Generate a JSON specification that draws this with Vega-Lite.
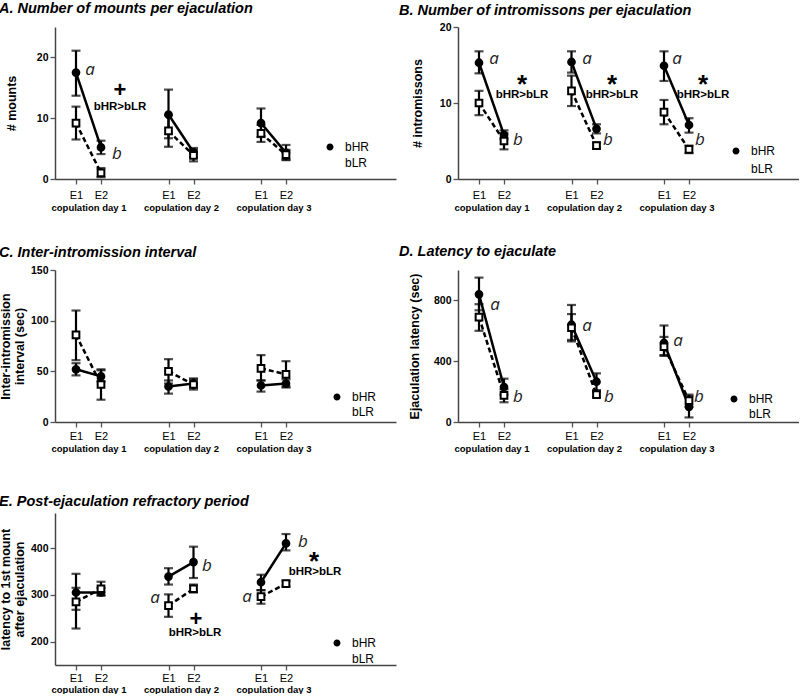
{
"$schema": "https://vega.github.io/schema/vega-lite/v6.json",
"padding": {"left": -2, "top": 0, "right": 0, "bottom": 0},
"bounds": "flush",
"columns": 2,
"spacing": {"row": 91, "column": 62},
"config": {
  "view": {"stroke": null},
  "font": "Liberation Sans",
  "axis": {"grid": false, "domainColor": "#444", "domainWidth": 1.5, "tickColor": "#555", "tickWidth": 1.3, "tickSize": 5, "labelColor": "black", "titleColor": "black"},
  "axisY": {"labelFontWeight": "bold", "labelFontSize": 10.5, "titleFontSize": 12.5, "titleFontWeight": "bold", "labelPadding": 2, "titleLineHeight": 14},
  "title": {"font": "Liberation Sans", "fontSize": 14.5, "fontStyle": "italic", "fontWeight": "bold", "anchor": "start", "frame": "group", "offset": 11, "color": "black"},
  "legend": {"padding": 0, "orient": "none", "title": null, "labelFont": "Liberation Sans", "labelFontSize": 12, "labelColor": "black", "labelOffset": 9, "symbolSize": 100, "symbolStrokeWidth": 2, "symbolStrokeColor": "black", "symbolOpacity": 1}
},
"datasets": {
  "meas": [
    {"panel":"A","group":"bHR","day":1,"ej":"E1","mean":17.5,"lo":13.7,"hi":21.1},
    {"panel":"A","group":"bHR","day":1,"ej":"E2","mean":5.2,"lo":4.1,"hi":6.3},
    {"panel":"A","group":"bLR","day":1,"ej":"E1","mean":9.2,"lo":6.5,"hi":11.9},
    {"panel":"A","group":"bLR","day":1,"ej":"E2","mean":1.0,"lo":0.3,"hi":1.8},
    {"panel":"A","group":"bHR","day":2,"ej":"E1","mean":10.6,"lo":6.7,"hi":14.7},
    {"panel":"A","group":"bHR","day":2,"ej":"E2","mean":4.4,"lo":3.6,"hi":5.1},
    {"panel":"A","group":"bLR","day":2,"ej":"E1","mean":7.9,"lo":5.3,"hi":10.5},
    {"panel":"A","group":"bLR","day":2,"ej":"E2","mean":3.9,"lo":2.9,"hi":4.8},
    {"panel":"A","group":"bHR","day":3,"ej":"E1","mean":9.2,"lo":6.9,"hi":11.6},
    {"panel":"A","group":"bHR","day":3,"ej":"E2","mean":4.3,"lo":3.1,"hi":5.6},
    {"panel":"A","group":"bLR","day":3,"ej":"E1","mean":7.5,"lo":6.1,"hi":8.9},
    {"panel":"A","group":"bLR","day":3,"ej":"E2","mean":4.0,"lo":3.2,"hi":4.8},
    {"panel":"B","group":"bHR","day":1,"ej":"E1","mean":15.3,"lo":13.9,"hi":16.8},
    {"panel":"B","group":"bHR","day":1,"ej":"E2","mean":5.8,"lo":5.3,"hi":6.4},
    {"panel":"B","group":"bLR","day":1,"ej":"E1","mean":10.0,"lo":8.4,"hi":11.6},
    {"panel":"B","group":"bLR","day":1,"ej":"E2","mean":5.0,"lo":3.9,"hi":6.0},
    {"panel":"B","group":"bHR","day":2,"ej":"E1","mean":15.4,"lo":14.0,"hi":16.8},
    {"panel":"B","group":"bHR","day":2,"ej":"E2","mean":6.6,"lo":6.0,"hi":7.2},
    {"panel":"B","group":"bLR","day":2,"ej":"E1","mean":11.6,"lo":9.6,"hi":13.6},
    {"panel":"B","group":"bLR","day":2,"ej":"E2","mean":4.4,"lo":4.0,"hi":4.8},
    {"panel":"B","group":"bHR","day":3,"ej":"E1","mean":14.9,"lo":12.9,"hi":16.8},
    {"panel":"B","group":"bHR","day":3,"ej":"E2","mean":7.1,"lo":6.1,"hi":8.0},
    {"panel":"B","group":"bLR","day":3,"ej":"E1","mean":8.8,"lo":7.2,"hi":10.4},
    {"panel":"B","group":"bLR","day":3,"ej":"E2","mean":3.9,"lo":3.4,"hi":4.4},
    {"panel":"C","group":"bHR","day":1,"ej":"E1","mean":52,"lo":46,"hi":58},
    {"panel":"C","group":"bHR","day":1,"ej":"E2","mean":45,"lo":40,"hi":51},
    {"panel":"C","group":"bLR","day":1,"ej":"E1","mean":86,"lo":61,"hi":110},
    {"panel":"C","group":"bLR","day":1,"ej":"E2","mean":37,"lo":22,"hi":52},
    {"panel":"C","group":"bHR","day":2,"ej":"E1","mean":35,"lo":28,"hi":41},
    {"panel":"C","group":"bHR","day":2,"ej":"E2","mean":38,"lo":34,"hi":42},
    {"panel":"C","group":"bLR","day":2,"ej":"E1","mean":50,"lo":38,"hi":62},
    {"panel":"C","group":"bLR","day":2,"ej":"E2","mean":37,"lo":32,"hi":43},
    {"panel":"C","group":"bHR","day":3,"ej":"E1","mean":36,"lo":30,"hi":41},
    {"panel":"C","group":"bHR","day":3,"ej":"E2","mean":38,"lo":34,"hi":42},
    {"panel":"C","group":"bLR","day":3,"ej":"E1","mean":53,"lo":41,"hi":66},
    {"panel":"C","group":"bLR","day":3,"ej":"E2","mean":47,"lo":35,"hi":60},
    {"panel":"D","group":"bHR","day":1,"ej":"E1","mean":840,"lo":735,"hi":950},
    {"panel":"D","group":"bHR","day":1,"ej":"E2","mean":230,"lo":180,"hi":285},
    {"panel":"D","group":"bLR","day":1,"ej":"E1","mean":690,"lo":600,"hi":775},
    {"panel":"D","group":"bLR","day":1,"ej":"E2","mean":175,"lo":130,"hi":215},
    {"panel":"D","group":"bHR","day":2,"ej":"E1","mean":640,"lo":540,"hi":770},
    {"panel":"D","group":"bHR","day":2,"ej":"E2","mean":265,"lo":210,"hi":320},
    {"panel":"D","group":"bLR","day":2,"ej":"E1","mean":620,"lo":530,"hi":710},
    {"panel":"D","group":"bLR","day":2,"ej":"E2","mean":180,"lo":165,"hi":200},
    {"panel":"D","group":"bHR","day":3,"ej":"E1","mean":520,"lo":440,"hi":635},
    {"panel":"D","group":"bHR","day":3,"ej":"E2","mean":100,"lo":30,"hi":170},
    {"panel":"D","group":"bLR","day":3,"ej":"E1","mean":495,"lo":435,"hi":560},
    {"panel":"D","group":"bLR","day":3,"ej":"E2","mean":140,"lo":100,"hi":180},
    {"panel":"E","group":"bHR","day":1,"ej":"E1","mean":305,"lo":268,"hi":345},
    {"panel":"E","group":"bHR","day":1,"ej":"E2","mean":305,"lo":298,"hi":315},
    {"panel":"E","group":"bLR","day":1,"ej":"E1","mean":285,"lo":228,"hi":315},
    {"panel":"E","group":"bLR","day":1,"ej":"E2","mean":313,"lo":300,"hi":328},
    {"panel":"E","group":"bHR","day":2,"ej":"E1","mean":339,"lo":322,"hi":357},
    {"panel":"E","group":"bHR","day":2,"ej":"E2","mean":370,"lo":336,"hi":403},
    {"panel":"E","group":"bLR","day":2,"ej":"E1","mean":277,"lo":253,"hi":301},
    {"panel":"E","group":"bLR","day":2,"ej":"E2","mean":313,"lo":305,"hi":322},
    {"panel":"E","group":"bHR","day":3,"ej":"E1","mean":327,"lo":310,"hi":343},
    {"panel":"E","group":"bHR","day":3,"ej":"E2","mean":410,"lo":395,"hi":430},
    {"panel":"E","group":"bLR","day":3,"ej":"E1","mean":296,"lo":281,"hi":310},
    {"panel":"E","group":"bLR","day":3,"ej":"E2","mean":324,"lo":318,"hi":330}
  ],
  "notes": [
    {"panel":"A","kind":"letter","label":"a","x":15.6,"yv":17.9},
    {"panel":"A","kind":"letter","label":"b","x":26.4,"yv":4.1},
    {"panel":"A","kind":"plus","label":"+","x":27.6,"yv":14.6},
    {"panel":"A","kind":"sig","label":"bHR>bLR","x":27.6,"yv":11.8},
    {"panel":"B","kind":"letter","label":"a","x":16,"yv":15.8},
    {"panel":"B","kind":"letter","label":"b","x":25.6,"yv":5.1},
    {"panel":"B","kind":"letter","label":"a","x":53.2,"yv":15.8},
    {"panel":"B","kind":"letter","label":"b","x":61.6,"yv":5.1},
    {"panel":"B","kind":"letter","label":"a","x":89.2,"yv":15.8},
    {"panel":"B","kind":"letter","label":"b","x":98.4,"yv":5.1},
    {"panel":"B","kind":"star","label":"*","x":27.2,"yv":13.2},
    {"panel":"B","kind":"star","label":"*","x":63.2,"yv":13.2},
    {"panel":"B","kind":"star","label":"*","x":99.6,"yv":13.2},
    {"panel":"B","kind":"sig","label":"bHR>bLR","x":27.2,"yv":11.1},
    {"panel":"B","kind":"sig","label":"bHR>bLR","x":63.2,"yv":11.1},
    {"panel":"B","kind":"sig","label":"bHR>bLR","x":99.6,"yv":11.1},
    {"panel":"D","kind":"letter","label":"a","x":16.4,"yv":773},
    {"panel":"D","kind":"letter","label":"b","x":25.6,"yv":166},
    {"panel":"D","kind":"letter","label":"a","x":53.2,"yv":629},
    {"panel":"D","kind":"letter","label":"b","x":62,"yv":166},
    {"panel":"D","kind":"letter","label":"a","x":89.6,"yv":530},
    {"panel":"D","kind":"letter","label":"b","x":98,"yv":166},
    {"panel":"E","kind":"letter","label":"a","x":41.6,"yv":294},
    {"panel":"E","kind":"letter","label":"b","x":62.4,"yv":362},
    {"panel":"E","kind":"letter","label":"a","x":78.4,"yv":296},
    {"panel":"E","kind":"letter","label":"b","x":100.8,"yv":412},
    {"panel":"E","kind":"plus","label":"+","x":58,"yv":249},
    {"panel":"E","kind":"sig","label":"bHR>bLR","x":57.6,"yv":219},
    {"panel":"E","kind":"star","label":"*","x":105.2,"yv":382},
    {"panel":"E","kind":"sig","label":"bHR>bLR","x":105.6,"yv":348}
  ]
},
"resolve": {"scale": {"shape": "independent", "fill": "independent"}, "legend": {"shape": "independent", "fill": "independent"}},
"concat": [
  {"width": 341, "height": 152,
   "title": {"text": "A. Number of mounts per ejaculation", "dx": -56, "offset": 11},
   "layer": [
    {"data": {"name": "meas"}, "transform": [{"filter": "datum.panel==='A'"}, {"calculate": "(datum.day-1)*37 + (datum.ej==='E2' ? 20 : 10)", "as": "x"}],
     "mark": {"type": "errorbar", "ticks": {"size": 9, "thickness": 2.2, "color": "black"}, "rule": {"strokeWidth": 2.2, "color": "black"}},
     "encoding": {
      "x": {"field": "x", "type": "quantitative", "scale": {"domain": [1.6, 138], "nice": false, "zero": false}, "axis": {"values": [10, 15, 20, 47, 52, 57, 84, 89, 94], "labelExpr": "datum.value==15 ? ['', 'copulation day 1'] : datum.value==52 ? ['', 'copulation day 2'] : datum.value==89 ? ['', 'copulation day 3'] : (datum.value==10||datum.value==47||datum.value==84) ? 'E1' : 'E2'", "labelOverlap": false, "labelFlush": false, "labelBound": false, "labelFontSize": {"condition": {"test": "datum.value==15||datum.value==52||datum.value==89", "value": 9.5}, "value": 11}, "labelFontWeight": {"condition": {"test": "datum.value==15||datum.value==52||datum.value==89", "value": "bold"}, "value": "normal"}, "tickOpacity": {"condition": {"test": "datum.value==15||datum.value==52||datum.value==89", "value": 0}, "value": 1}, "labelLineHeight": 13, "labelPadding": 5, "title": null}},
      "y": {"field": "lo", "type": "quantitative", "scale": {"domain": [0, 25], "nice": false}, "axis": {"values": [0, 5, 10, 15, 20, 25], "title": "# mounts", "titleX": -37}},
      "y2": {"field": "hi"}
     }},
    {"data": {"name": "meas"}, "transform": [{"filter": "datum.panel==='A' && datum.group==='bHR'"}, {"calculate": "(datum.day-1)*37 + (datum.ej==='E2' ? 20 : 10)", "as": "x"}],
     "mark": {"type": "line", "color": "black", "strokeWidth": 2.5},
     "encoding": {"x": {"field": "x", "type": "quantitative"}, "y": {"field": "mean", "type": "quantitative"}, "detail": {"field": "day"}}},
    {"data": {"name": "meas"}, "transform": [{"filter": "datum.panel==='A' && datum.group==='bLR'"}, {"calculate": "(datum.day-1)*37 + (datum.ej==='E2' ? 20 : 10)", "as": "x"}],
     "mark": {"type": "line", "color": "black", "strokeWidth": 2.5, "strokeDash": [5, 3]},
     "encoding": {"x": {"field": "x", "type": "quantitative"}, "y": {"field": "mean", "type": "quantitative"}, "detail": {"field": "day"}}},
    {"data": {"name": "meas"}, "transform": [{"filter": "datum.panel==='A' && datum.group==='bHR'"}, {"calculate": "(datum.day-1)*37 + (datum.ej==='E2' ? 20 : 10)", "as": "x"}],
     "mark": {"type": "point", "shape": "circle", "filled": true, "fill": "black", "stroke": "black", "strokeWidth": 2, "size": 45, "opacity": 1},
     "encoding": {"x": {"field": "x", "type": "quantitative"}, "y": {"field": "mean", "type": "quantitative"}}},
    {"data": {"name": "meas"}, "transform": [{"filter": "datum.panel==='A' && datum.group==='bLR'"}, {"calculate": "(datum.day-1)*37 + (datum.ej==='E2' ? 20 : 10)", "as": "x"}],
     "mark": {"type": "point", "shape": "square", "filled": true, "fill": "white", "stroke": "black", "strokeWidth": 2, "size": 45, "opacity": 1},
     "encoding": {"x": {"field": "x", "type": "quantitative"}, "y": {"field": "mean", "type": "quantitative"}}},
    {"data": {"name": "meas"}, "transform": [{"filter": "datum.panel==='A'"}, {"calculate": "(datum.day-1)*37 + (datum.ej==='E2' ? 20 : 10)", "as": "x"}],
     "mark": {"type": "point", "filled": false, "opacity": 0, "size": 10, "stroke": "black", "strokeWidth": 2},
     "encoding": {"x": {"field": "x", "type": "quantitative"}, "y": {"field": "mean", "type": "quantitative"},
      "shape": {"field": "group", "type": "nominal", "scale": {"domain": ["bHR", "bLR"], "range": ["M-2.2,0H2.2M0.7,0A0.7,0.7,0,1,1,-0.7,0A0.7,0.7,0,1,1,0.7,0Z", "M-2.2,0H-1.6M-1.2,0H-0.7M0.7,0H1.2M1.6,0H2.2M-0.7,-0.7H0.7V0.7H-0.7Z"]}, "legend": {"legendX": 269, "legendY": 114, "rowPadding": 0}},
      "fill": {"field": "group", "type": "nominal", "scale": {"domain": ["bHR", "bLR"], "range": ["black", "white"]}, "legend": {"legendX": 269, "legendY": 114, "rowPadding": 0}}}},
    {"data": {"name": "notes"}, "transform": [{"filter": "datum.panel==='A' && datum.kind==='letter'"}],
     "mark": {"type": "text", "font": "Open Sans", "fontStyle": "italic", "fontSize": 17, "align": "center", "baseline": "middle", "color": "#222"},
     "encoding": {"x": {"field": "x", "type": "quantitative"}, "y": {"field": "yv", "type": "quantitative"}, "text": {"field": "label"}}},
    {"data": {"name": "notes"}, "transform": [{"filter": "datum.panel==='A' && datum.kind==='plus'"}],
     "mark": {"type": "text", "font": "Liberation Sans", "fontWeight": "bold", "fontSize": 22, "align": "center", "baseline": "middle", "color": "black"},
     "encoding": {"x": {"field": "x", "type": "quantitative"}, "y": {"field": "yv", "type": "quantitative"}, "text": {"field": "label"}}},
    {"data": {"name": "notes"}, "transform": [{"filter": "datum.panel==='A' && datum.kind==='sig'"}],
     "mark": {"type": "text", "font": "Liberation Sans", "fontWeight": "bold", "fontSize": 11.5, "align": "center", "baseline": "middle", "color": "black"},
     "encoding": {"x": {"field": "x", "type": "quantitative"}, "y": {"field": "yv", "type": "quantitative"}, "text": {"field": "label"}}}
   ]},
  {"width": 341, "height": 152,
   "title": {"text": "B. Number of intromissons per ejaculation", "dx": -59, "offset": 4},
   "layer": [
    {"data": {"name": "meas"}, "transform": [{"filter": "datum.panel==='B'"}, {"calculate": "(datum.day-1)*37 + (datum.ej==='E2' ? 20 : 10)", "as": "x"}],
     "mark": {"type": "errorbar", "ticks": {"size": 9, "thickness": 2.2, "color": "black"}, "rule": {"strokeWidth": 2.2, "color": "black"}},
     "encoding": {
      "x": {"field": "x", "type": "quantitative", "scale": {"domain": [1.6, 138], "nice": false, "zero": false}, "axis": {"values": [10, 15, 20, 47, 52, 57, 84, 89, 94], "labelExpr": "datum.value==15 ? ['', 'copulation day 1'] : datum.value==52 ? ['', 'copulation day 2'] : datum.value==89 ? ['', 'copulation day 3'] : (datum.value==10||datum.value==47||datum.value==84) ? 'E1' : 'E2'", "labelOverlap": false, "labelFlush": false, "labelBound": false, "labelFontSize": {"condition": {"test": "datum.value==15||datum.value==52||datum.value==89", "value": 9.5}, "value": 11}, "labelFontWeight": {"condition": {"test": "datum.value==15||datum.value==52||datum.value==89", "value": "bold"}, "value": "normal"}, "tickOpacity": {"condition": {"test": "datum.value==15||datum.value==52||datum.value==89", "value": 0}, "value": 1}, "labelLineHeight": 13, "labelPadding": 5, "title": null}},
      "y": {"field": "lo", "type": "quantitative", "scale": {"domain": [0, 20], "nice": false}, "axis": {"values": [0, 5, 10, 15, 20], "title": "# intromissons", "titleX": -34}},
      "y2": {"field": "hi"}
     }},
    {"data": {"name": "meas"}, "transform": [{"filter": "datum.panel==='B' && datum.group==='bHR'"}, {"calculate": "(datum.day-1)*37 + (datum.ej==='E2' ? 20 : 10)", "as": "x"}],
     "mark": {"type": "line", "color": "black", "strokeWidth": 2.5},
     "encoding": {"x": {"field": "x", "type": "quantitative"}, "y": {"field": "mean", "type": "quantitative"}, "detail": {"field": "day"}}},
    {"data": {"name": "meas"}, "transform": [{"filter": "datum.panel==='B' && datum.group==='bLR'"}, {"calculate": "(datum.day-1)*37 + (datum.ej==='E2' ? 20 : 10)", "as": "x"}],
     "mark": {"type": "line", "color": "black", "strokeWidth": 2.5, "strokeDash": [5, 3]},
     "encoding": {"x": {"field": "x", "type": "quantitative"}, "y": {"field": "mean", "type": "quantitative"}, "detail": {"field": "day"}}},
    {"data": {"name": "meas"}, "transform": [{"filter": "datum.panel==='B' && datum.group==='bHR'"}, {"calculate": "(datum.day-1)*37 + (datum.ej==='E2' ? 20 : 10)", "as": "x"}],
     "mark": {"type": "point", "shape": "circle", "filled": true, "fill": "black", "stroke": "black", "strokeWidth": 2, "size": 45, "opacity": 1},
     "encoding": {"x": {"field": "x", "type": "quantitative"}, "y": {"field": "mean", "type": "quantitative"}}},
    {"data": {"name": "meas"}, "transform": [{"filter": "datum.panel==='B' && datum.group==='bLR'"}, {"calculate": "(datum.day-1)*37 + (datum.ej==='E2' ? 20 : 10)", "as": "x"}],
     "mark": {"type": "point", "shape": "square", "filled": true, "fill": "white", "stroke": "black", "strokeWidth": 2, "size": 45, "opacity": 1},
     "encoding": {"x": {"field": "x", "type": "quantitative"}, "y": {"field": "mean", "type": "quantitative"}}},
    {"data": {"name": "meas"}, "transform": [{"filter": "datum.panel==='B'"}, {"calculate": "(datum.day-1)*37 + (datum.ej==='E2' ? 20 : 10)", "as": "x"}],
     "mark": {"type": "point", "filled": false, "opacity": 0, "size": 10, "stroke": "black", "strokeWidth": 2},
     "encoding": {"x": {"field": "x", "type": "quantitative"}, "y": {"field": "mean", "type": "quantitative"},
      "shape": {"field": "group", "type": "nominal", "scale": {"domain": ["bHR", "bLR"], "range": ["M-2.2,0H2.2M0.7,0A0.7,0.7,0,1,1,-0.7,0A0.7,0.7,0,1,1,0.7,0Z", "M-2.2,0H-1.6M-1.2,0H-0.7M0.7,0H1.2M1.6,0H2.2M-0.7,-0.7H0.7V0.7H-0.7Z"]}, "legend": {"legendX": 272, "legendY": 118, "rowPadding": 2}},
      "fill": {"field": "group", "type": "nominal", "scale": {"domain": ["bHR", "bLR"], "range": ["black", "white"]}, "legend": {"legendX": 272, "legendY": 118, "rowPadding": 2}}}},
    {"data": {"name": "notes"}, "transform": [{"filter": "datum.panel==='B' && datum.kind==='letter'"}],
     "mark": {"type": "text", "font": "Open Sans", "fontStyle": "italic", "fontSize": 17, "align": "center", "baseline": "middle", "color": "#222"},
     "encoding": {"x": {"field": "x", "type": "quantitative"}, "y": {"field": "yv", "type": "quantitative"}, "text": {"field": "label"}}},
    {"data": {"name": "notes"}, "transform": [{"filter": "datum.panel==='B' && datum.kind==='star'"}],
     "mark": {"type": "text", "font": "Liberation Sans", "fontWeight": "bold", "fontSize": 26, "align": "center", "baseline": "middle", "dy": 6, "color": "black"},
     "encoding": {"x": {"field": "x", "type": "quantitative"}, "y": {"field": "yv", "type": "quantitative"}, "text": {"field": "label"}}},
    {"data": {"name": "notes"}, "transform": [{"filter": "datum.panel==='B' && datum.kind==='sig'"}],
     "mark": {"type": "text", "font": "Liberation Sans", "fontWeight": "bold", "fontSize": 11.5, "align": "center", "baseline": "middle", "color": "black"},
     "encoding": {"x": {"field": "x", "type": "quantitative"}, "y": {"field": "yv", "type": "quantitative"}, "text": {"field": "label"}}}
   ]},
  {"width": 341, "height": 152,
   "title": {"text": "C. Inter-intromission interval", "dx": -56, "offset": 5},
   "layer": [
    {"data": {"name": "meas"}, "transform": [{"filter": "datum.panel==='C'"}, {"calculate": "(datum.day-1)*37 + (datum.ej==='E2' ? 20 : 10)", "as": "x"}],
     "mark": {"type": "errorbar", "ticks": {"size": 9, "thickness": 2.2, "color": "black"}, "rule": {"strokeWidth": 2.2, "color": "black"}},
     "encoding": {
      "x": {"field": "x", "type": "quantitative", "scale": {"domain": [1.6, 138], "nice": false, "zero": false}, "axis": {"values": [10, 15, 20, 47, 52, 57, 84, 89, 94], "labelExpr": "datum.value==15 ? ['', 'copulation day 1'] : datum.value==52 ? ['', 'copulation day 2'] : datum.value==89 ? ['', 'copulation day 3'] : (datum.value==10||datum.value==47||datum.value==84) ? 'E1' : 'E2'", "labelOverlap": false, "labelFlush": false, "labelBound": false, "labelFontSize": {"condition": {"test": "datum.value==15||datum.value==52||datum.value==89", "value": 9.5}, "value": 11}, "labelFontWeight": {"condition": {"test": "datum.value==15||datum.value==52||datum.value==89", "value": "bold"}, "value": "normal"}, "tickOpacity": {"condition": {"test": "datum.value==15||datum.value==52||datum.value==89", "value": 0}, "value": 1}, "labelLineHeight": 13, "labelPadding": 3, "title": null}},
      "y": {"field": "lo", "type": "quantitative", "scale": {"domain": [0, 150], "nice": false}, "axis": {"values": [0, 50, 100, 150], "title": ["Inter-intromission", "interval  (sec)"], "titleX": -43}},
      "y2": {"field": "hi"}
     }},
    {"data": {"name": "meas"}, "transform": [{"filter": "datum.panel==='C' && datum.group==='bHR'"}, {"calculate": "(datum.day-1)*37 + (datum.ej==='E2' ? 20 : 10)", "as": "x"}],
     "mark": {"type": "line", "color": "black", "strokeWidth": 2.5},
     "encoding": {"x": {"field": "x", "type": "quantitative"}, "y": {"field": "mean", "type": "quantitative"}, "detail": {"field": "day"}}},
    {"data": {"name": "meas"}, "transform": [{"filter": "datum.panel==='C' && datum.group==='bLR'"}, {"calculate": "(datum.day-1)*37 + (datum.ej==='E2' ? 20 : 10)", "as": "x"}],
     "mark": {"type": "line", "color": "black", "strokeWidth": 2.5, "strokeDash": [5, 3]},
     "encoding": {"x": {"field": "x", "type": "quantitative"}, "y": {"field": "mean", "type": "quantitative"}, "detail": {"field": "day"}}},
    {"data": {"name": "meas"}, "transform": [{"filter": "datum.panel==='C' && datum.group==='bHR'"}, {"calculate": "(datum.day-1)*37 + (datum.ej==='E2' ? 20 : 10)", "as": "x"}],
     "mark": {"type": "point", "shape": "circle", "filled": true, "fill": "black", "stroke": "black", "strokeWidth": 2, "size": 45, "opacity": 1},
     "encoding": {"x": {"field": "x", "type": "quantitative"}, "y": {"field": "mean", "type": "quantitative"}}},
    {"data": {"name": "meas"}, "transform": [{"filter": "datum.panel==='C' && datum.group==='bLR'"}, {"calculate": "(datum.day-1)*37 + (datum.ej==='E2' ? 20 : 10)", "as": "x"}],
     "mark": {"type": "point", "shape": "square", "filled": true, "fill": "white", "stroke": "black", "strokeWidth": 2, "size": 45, "opacity": 1},
     "encoding": {"x": {"field": "x", "type": "quantitative"}, "y": {"field": "mean", "type": "quantitative"}}},
    {"data": {"name": "meas"}, "transform": [{"filter": "datum.panel==='C'"}, {"calculate": "(datum.day-1)*37 + (datum.ej==='E2' ? 20 : 10)", "as": "x"}],
     "mark": {"type": "point", "filled": false, "opacity": 0, "size": 10, "stroke": "black", "strokeWidth": 2},
     "encoding": {"x": {"field": "x", "type": "quantitative"}, "y": {"field": "mean", "type": "quantitative"},
      "shape": {"field": "group", "type": "nominal", "scale": {"domain": ["bHR", "bLR"], "range": ["M-2.2,0H2.2M0.7,0A0.7,0.7,0,1,1,-0.7,0A0.7,0.7,0,1,1,0.7,0Z", "M-2.2,0H-1.6M-1.2,0H-0.7M0.7,0H1.2M1.6,0H2.2M-0.7,-0.7H0.7V0.7H-0.7Z"]}, "legend": {"legendX": 276, "legendY": 121, "rowPadding": -1}},
      "fill": {"field": "group", "type": "nominal", "scale": {"domain": ["bHR", "bLR"], "range": ["black", "white"]}, "legend": {"legendX": 276, "legendY": 121, "rowPadding": -1}}}}
   ]},
  {"width": 341, "height": 152,
   "title": {"text": "D. Latency to ejaculate", "dx": -59, "offset": 11},
   "layer": [
    {"data": {"name": "meas"}, "transform": [{"filter": "datum.panel==='D'"}, {"calculate": "(datum.day-1)*37 + (datum.ej==='E2' ? 20 : 10)", "as": "x"}],
     "mark": {"type": "errorbar", "ticks": {"size": 9, "thickness": 2.2, "color": "black"}, "rule": {"strokeWidth": 2.2, "color": "black"}},
     "encoding": {
      "x": {"field": "x", "type": "quantitative", "scale": {"domain": [1.6, 138], "nice": false, "zero": false}, "axis": {"values": [10, 15, 20, 47, 52, 57, 84, 89, 94], "labelExpr": "datum.value==15 ? ['', 'copulation day 1'] : datum.value==52 ? ['', 'copulation day 2'] : datum.value==89 ? ['', 'copulation day 3'] : (datum.value==10||datum.value==47||datum.value==84) ? 'E1' : 'E2'", "labelOverlap": false, "labelFlush": false, "labelBound": false, "labelFontSize": {"condition": {"test": "datum.value==15||datum.value==52||datum.value==89", "value": 9.5}, "value": 11}, "labelFontWeight": {"condition": {"test": "datum.value==15||datum.value==52||datum.value==89", "value": "bold"}, "value": "normal"}, "tickOpacity": {"condition": {"test": "datum.value==15||datum.value==52||datum.value==89", "value": 0}, "value": 1}, "labelLineHeight": 13, "labelPadding": 3, "title": null}},
      "y": {"field": "lo", "type": "quantitative", "scale": {"domain": [0, 1000], "nice": false}, "axis": {"values": [0, 200, 400, 600, 800, 1000], "title": "Ejaculation latency  (sec)", "titleX": -37}},
      "y2": {"field": "hi"}
     }},
    {"data": {"name": "meas"}, "transform": [{"filter": "datum.panel==='D' && datum.group==='bHR'"}, {"calculate": "(datum.day-1)*37 + (datum.ej==='E2' ? 20 : 10)", "as": "x"}],
     "mark": {"type": "line", "color": "black", "strokeWidth": 2.5},
     "encoding": {"x": {"field": "x", "type": "quantitative"}, "y": {"field": "mean", "type": "quantitative"}, "detail": {"field": "day"}}},
    {"data": {"name": "meas"}, "transform": [{"filter": "datum.panel==='D' && datum.group==='bLR'"}, {"calculate": "(datum.day-1)*37 + (datum.ej==='E2' ? 20 : 10)", "as": "x"}],
     "mark": {"type": "line", "color": "black", "strokeWidth": 2.5, "strokeDash": [5, 3]},
     "encoding": {"x": {"field": "x", "type": "quantitative"}, "y": {"field": "mean", "type": "quantitative"}, "detail": {"field": "day"}}},
    {"data": {"name": "meas"}, "transform": [{"filter": "datum.panel==='D' && datum.group==='bHR'"}, {"calculate": "(datum.day-1)*37 + (datum.ej==='E2' ? 20 : 10)", "as": "x"}],
     "mark": {"type": "point", "shape": "circle", "filled": true, "fill": "black", "stroke": "black", "strokeWidth": 2, "size": 45, "opacity": 1},
     "encoding": {"x": {"field": "x", "type": "quantitative"}, "y": {"field": "mean", "type": "quantitative"}}},
    {"data": {"name": "meas"}, "transform": [{"filter": "datum.panel==='D' && datum.group==='bLR'"}, {"calculate": "(datum.day-1)*37 + (datum.ej==='E2' ? 20 : 10)", "as": "x"}],
     "mark": {"type": "point", "shape": "square", "filled": true, "fill": "white", "stroke": "black", "strokeWidth": 2, "size": 45, "opacity": 1},
     "encoding": {"x": {"field": "x", "type": "quantitative"}, "y": {"field": "mean", "type": "quantitative"}}},
    {"data": {"name": "meas"}, "transform": [{"filter": "datum.panel==='D'"}, {"calculate": "(datum.day-1)*37 + (datum.ej==='E2' ? 20 : 10)", "as": "x"}],
     "mark": {"type": "point", "filled": false, "opacity": 0, "size": 10, "stroke": "black", "strokeWidth": 2},
     "encoding": {"x": {"field": "x", "type": "quantitative"}, "y": {"field": "mean", "type": "quantitative"},
      "shape": {"field": "group", "type": "nominal", "scale": {"domain": ["bHR", "bLR"], "range": ["M-2.2,0H2.2M0.7,0A0.7,0.7,0,1,1,-0.7,0A0.7,0.7,0,1,1,0.7,0Z", "M-2.2,0H-1.6M-1.2,0H-0.7M0.7,0H1.2M1.6,0H2.2M-0.7,-0.7H0.7V0.7H-0.7Z"]}, "legend": {"legendX": 270, "legendY": 123, "rowPadding": -1}},
      "fill": {"field": "group", "type": "nominal", "scale": {"domain": ["bHR", "bLR"], "range": ["black", "white"]}, "legend": {"legendX": 270, "legendY": 123, "rowPadding": -1}}}},
    {"data": {"name": "notes"}, "transform": [{"filter": "datum.panel==='D' && datum.kind==='letter'"}],
     "mark": {"type": "text", "font": "Open Sans", "fontStyle": "italic", "fontSize": 17, "align": "center", "baseline": "middle", "color": "#222"},
     "encoding": {"x": {"field": "x", "type": "quantitative"}, "y": {"field": "yv", "type": "quantitative"}, "text": {"field": "label"}}}
   ]},
  {"width": 341, "height": 152,
   "title": {"text": "E. Post-ejaculation refractory period", "dx": -56, "offset": 4},
   "layer": [
    {"data": {"name": "meas"}, "transform": [{"filter": "datum.panel==='E'"}, {"calculate": "(datum.day-1)*37 + (datum.ej==='E2' ? 20 : 10)", "as": "x"}],
     "mark": {"type": "errorbar", "ticks": {"size": 9, "thickness": 2.2, "color": "black"}, "rule": {"strokeWidth": 2.2, "color": "black"}},
     "encoding": {
      "x": {"field": "x", "type": "quantitative", "scale": {"domain": [1.6, 138], "nice": false, "zero": false}, "axis": {"values": [10, 15, 20, 47, 52, 57, 84, 89, 94], "labelExpr": "datum.value==15 ? ['', 'copulation day 1'] : datum.value==52 ? ['', 'copulation day 2'] : datum.value==89 ? ['', 'copulation day 3'] : (datum.value==10||datum.value==47||datum.value==84) ? 'E1' : 'E2'", "labelOverlap": false, "labelFlush": false, "labelBound": false, "labelFontSize": {"condition": {"test": "datum.value==15||datum.value==52||datum.value==89", "value": 9.5}, "value": 11}, "labelFontWeight": {"condition": {"test": "datum.value==15||datum.value==52||datum.value==89", "value": "bold"}, "value": "normal"}, "tickOpacity": {"condition": {"test": "datum.value==15||datum.value==52||datum.value==89", "value": 0}, "value": 1}, "labelLineHeight": 12.5, "labelPadding": 2, "title": null}},
      "y": {"field": "lo", "type": "quantitative", "scale": {"domain": [150, 475], "nice": false, "zero": false}, "axis": {"values": [200, 300, 400], "title": ["latency to 1st mount", "after ejaculation"], "titleX": -43}},
      "y2": {"field": "hi"}
     }},
    {"data": {"name": "meas"}, "transform": [{"filter": "datum.panel==='E' && datum.group==='bHR'"}, {"calculate": "(datum.day-1)*37 + (datum.ej==='E2' ? 20 : 10)", "as": "x"}],
     "mark": {"type": "line", "color": "black", "strokeWidth": 2.5},
     "encoding": {"x": {"field": "x", "type": "quantitative"}, "y": {"field": "mean", "type": "quantitative"}, "detail": {"field": "day"}}},
    {"data": {"name": "meas"}, "transform": [{"filter": "datum.panel==='E' && datum.group==='bLR'"}, {"calculate": "(datum.day-1)*37 + (datum.ej==='E2' ? 20 : 10)", "as": "x"}],
     "mark": {"type": "line", "color": "black", "strokeWidth": 2.5, "strokeDash": [5, 3]},
     "encoding": {"x": {"field": "x", "type": "quantitative"}, "y": {"field": "mean", "type": "quantitative"}, "detail": {"field": "day"}}},
    {"data": {"name": "meas"}, "transform": [{"filter": "datum.panel==='E' && datum.group==='bHR'"}, {"calculate": "(datum.day-1)*37 + (datum.ej==='E2' ? 20 : 10)", "as": "x"}],
     "mark": {"type": "point", "shape": "circle", "filled": true, "fill": "black", "stroke": "black", "strokeWidth": 2, "size": 45, "opacity": 1},
     "encoding": {"x": {"field": "x", "type": "quantitative"}, "y": {"field": "mean", "type": "quantitative"}}},
    {"data": {"name": "meas"}, "transform": [{"filter": "datum.panel==='E' && datum.group==='bLR'"}, {"calculate": "(datum.day-1)*37 + (datum.ej==='E2' ? 20 : 10)", "as": "x"}],
     "mark": {"type": "point", "shape": "square", "filled": true, "fill": "white", "stroke": "black", "strokeWidth": 2, "size": 45, "opacity": 1},
     "encoding": {"x": {"field": "x", "type": "quantitative"}, "y": {"field": "mean", "type": "quantitative"}}},
    {"data": {"name": "meas"}, "transform": [{"filter": "datum.panel==='E'"}, {"calculate": "(datum.day-1)*37 + (datum.ej==='E2' ? 20 : 10)", "as": "x"}],
     "mark": {"type": "point", "filled": false, "opacity": 0, "size": 10, "stroke": "black", "strokeWidth": 2},
     "encoding": {"x": {"field": "x", "type": "quantitative"}, "y": {"field": "mean", "type": "quantitative"},
      "shape": {"field": "group", "type": "nominal", "scale": {"domain": ["bHR", "bLR"], "range": ["M-2.2,0H2.2M0.7,0A0.7,0.7,0,1,1,-0.7,0A0.7,0.7,0,1,1,0.7,0Z", "M-2.2,0H-1.6M-1.2,0H-0.7M0.7,0H1.2M1.6,0H2.2M-0.7,-0.7H0.7V0.7H-0.7Z"]}, "legend": {"legendX": 276, "legendY": 124, "rowPadding": 0}},
      "fill": {"field": "group", "type": "nominal", "scale": {"domain": ["bHR", "bLR"], "range": ["black", "white"]}, "legend": {"legendX": 276, "legendY": 124, "rowPadding": 0}}}},
    {"data": {"name": "notes"}, "transform": [{"filter": "datum.panel==='E' && datum.kind==='letter'"}],
     "mark": {"type": "text", "font": "Open Sans", "fontStyle": "italic", "fontSize": 17, "align": "center", "baseline": "middle", "color": "#222"},
     "encoding": {"x": {"field": "x", "type": "quantitative"}, "y": {"field": "yv", "type": "quantitative"}, "text": {"field": "label"}}},
    {"data": {"name": "notes"}, "transform": [{"filter": "datum.panel==='E' && datum.kind==='plus'"}],
     "mark": {"type": "text", "font": "Liberation Sans", "fontWeight": "bold", "fontSize": 22, "align": "center", "baseline": "middle", "color": "black"},
     "encoding": {"x": {"field": "x", "type": "quantitative"}, "y": {"field": "yv", "type": "quantitative"}, "text": {"field": "label"}}},
    {"data": {"name": "notes"}, "transform": [{"filter": "datum.panel==='E' && datum.kind==='star'"}],
     "mark": {"type": "text", "font": "Liberation Sans", "fontWeight": "bold", "fontSize": 26, "align": "center", "baseline": "middle", "dy": 6, "color": "black"},
     "encoding": {"x": {"field": "x", "type": "quantitative"}, "y": {"field": "yv", "type": "quantitative"}, "text": {"field": "label"}}},
    {"data": {"name": "notes"}, "transform": [{"filter": "datum.panel==='E' && datum.kind==='sig'"}],
     "mark": {"type": "text", "font": "Liberation Sans", "fontWeight": "bold", "fontSize": 11.5, "align": "center", "baseline": "middle", "color": "black"},
     "encoding": {"x": {"field": "x", "type": "quantitative"}, "y": {"field": "yv", "type": "quantitative"}, "text": {"field": "label"}}}
   ]}
]
}
